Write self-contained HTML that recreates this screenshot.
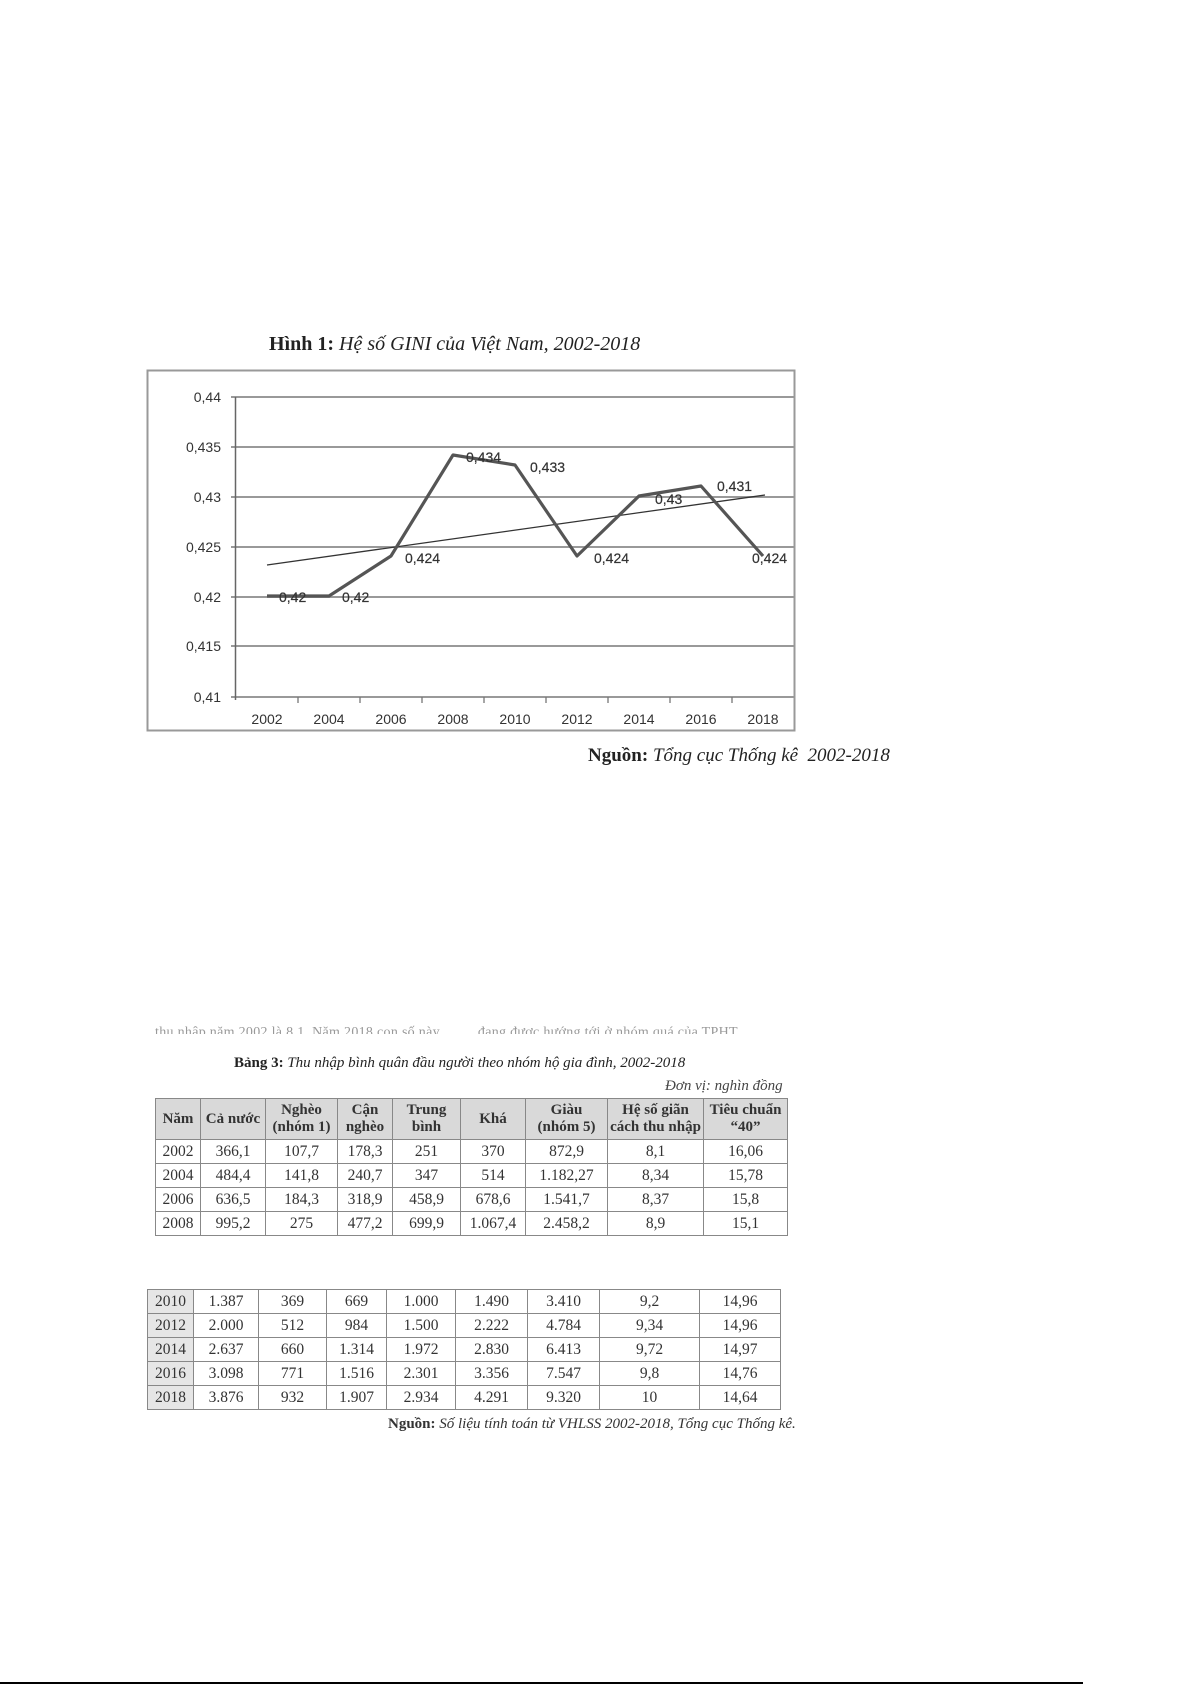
<!DOCTYPE html>
<html><head><meta charset="utf-8"><style>
body{margin:0;width:1192px;height:1685px;background:#fff;position:relative;overflow:hidden;font-family:"Liberation Serif",serif;color:#222}
.a{position:absolute;white-space:nowrap}
table{position:absolute;border-collapse:collapse;font-family:"Liberation Serif",serif;font-size:15.5px;color:#333}
td{border:1px solid #888;text-align:center;padding:0;height:23px}
th{border:1px solid #888;background:#d9d9d9;font-weight:bold;font-size:15px;line-height:17px;padding:0;height:40px}
</style></head><body>
<div class="a" style="left:269px;top:333px;font-size:20px"><b>Hình 1:</b> <i>Hệ số GINI của Việt Nam, 2002-2018</i></div>
<svg class="a" style="left:0;top:0" width="1192" height="800">
<rect x="147.5" y="370.5" width="647" height="360" fill="#fff" stroke="#999" stroke-width="2"/>
<g stroke="#999" stroke-width="2">
<line x1="231" x2="794" y1="397" y2="397"/><line x1="231" x2="794" y1="447" y2="447"/>
<line x1="231" x2="794" y1="497" y2="497"/><line x1="231" x2="794" y1="547" y2="547"/>
<line x1="231" x2="794" y1="597" y2="597"/><line x1="231" x2="794" y1="646" y2="646"/>
<line x1="231" x2="794" y1="697" y2="697"/>
</g>
<line x1="235.5" x2="235.5" y1="397" y2="700" stroke="#666" stroke-width="1.5"/>
<g stroke="#777" stroke-width="1.3">
<line x1="298" x2="298" y1="697" y2="703"/><line x1="360" x2="360" y1="697" y2="703"/><line x1="422" x2="422" y1="697" y2="703"/><line x1="484" x2="484" y1="697" y2="703"/><line x1="546" x2="546" y1="697" y2="703"/><line x1="608" x2="608" y1="697" y2="703"/><line x1="670" x2="670" y1="697" y2="703"/><line x1="732" x2="732" y1="697" y2="703"/>
</g>
<g font-family="Liberation Sans,sans-serif" font-size="14" fill="#333" text-anchor="end">
<text x="221" y="402">0,44</text><text x="221" y="452">0,435</text><text x="221" y="502">0,43</text><text x="221" y="552">0,425</text><text x="221" y="602">0,42</text><text x="221" y="651">0,415</text><text x="221" y="702">0,41</text>
</g>
<g font-family="Liberation Sans,sans-serif" font-size="14" fill="#333" text-anchor="middle">
<text x="267" y="724">2002</text><text x="329" y="724">2004</text><text x="391" y="724">2006</text><text x="453" y="724">2008</text><text x="515" y="724">2010</text><text x="577" y="724">2012</text><text x="639" y="724">2014</text><text x="701" y="724">2016</text><text x="763" y="724">2018</text>
</g>
<line x1="267" y1="565" x2="765" y2="495" stroke="#333" stroke-width="1.3"/>
<polyline fill="none" stroke="#555" stroke-width="3.2" stroke-linejoin="round" points="267,596 329,596 391,556 453,455 515,465 577,556 639,496 701,486 763,556"/>
<g font-family="Liberation Sans,sans-serif" font-size="14" fill="#333" stroke="#333" stroke-width="0.2">
<text x="279" y="602">0,42</text><text x="342" y="602">0,42</text><text x="405" y="563">0,424</text><text x="466" y="462">0,434</text><text x="530" y="472">0,433</text><text x="594" y="563">0,424</text><text x="655" y="504">0,43</text><text x="717" y="491">0,431</text><text x="752" y="563">0,424</text>
</g>
</svg>
<div class="a" style="left:588px;top:745px;font-size:19px"><b>Nguồn:</b> <i>Tổng cục Thống kê&nbsp; 2002-2018</i></div>

<div class="a" style="left:155px;top:1025px;font-size:14px;color:#999;letter-spacing:0.3px;height:9px;overflow:hidden;line-height:16px">thu nhập năm 2002 là 8,1. Năm 2018 con số này &nbsp;&nbsp;&nbsp;&nbsp;&nbsp;&nbsp;&nbsp;&nbsp; đang được hướng tới ở nhóm quá của TPHT.</div>
<div class="a" style="left:234px;top:1055px;font-size:15px"><b>Bảng 3:</b> <i>Thu nhập bình quân đầu người theo nhóm hộ gia đình, 2002-2018</i></div>
<div class="a" style="left:665px;top:1078px;font-size:15px;color:#444"><i>Đơn vị: nghìn đồng</i></div>
<table style="left:155px;top:1098px;width:633px">
<colgroup><col style="width:45px"><col style="width:65px"><col style="width:72px"><col style="width:55px"><col style="width:68px"><col style="width:65px"><col style="width:82px"><col style="width:96px"><col style="width:84px"></colgroup>
<tr><th>Năm</th><th>Cả nước</th><th>Nghèo<br>(nhóm 1)</th><th>Cận<br>nghèo</th><th>Trung<br>bình</th><th>Khá</th><th>Giàu<br>(nhóm 5)</th><th>Hệ số giãn<br>cách thu nhập</th><th>Tiêu chuẩn<br>“40”</th></tr>
<tr><td>2002</td><td>366,1</td><td>107,7</td><td>178,3</td><td>251</td><td>370</td><td>872,9</td><td>8,1</td><td>16,06</td></tr>
<tr><td>2004</td><td>484,4</td><td>141,8</td><td>240,7</td><td>347</td><td>514</td><td>1.182,27</td><td>8,34</td><td>15,78</td></tr>
<tr><td>2006</td><td>636,5</td><td>184,3</td><td>318,9</td><td>458,9</td><td>678,6</td><td>1.541,7</td><td>8,37</td><td>15,8</td></tr>
<tr><td>2008</td><td>995,2</td><td>275</td><td>477,2</td><td>699,9</td><td>1.067,4</td><td>2.458,2</td><td>8,9</td><td>15,1</td></tr>
</table>
<table style="left:147px;top:1289px;width:634px">
<colgroup><col style="width:46px"><col style="width:65px"><col style="width:68px"><col style="width:60px"><col style="width:69px"><col style="width:72px"><col style="width:72px"><col style="width:100px"><col style="width:81px"></colgroup>
<tr><td style="background:#e6e6e6">2010</td><td>1.387</td><td>369</td><td>669</td><td>1.000</td><td>1.490</td><td>3.410</td><td>9,2</td><td>14,96</td></tr>
<tr><td style="background:#e6e6e6">2012</td><td>2.000</td><td>512</td><td>984</td><td>1.500</td><td>2.222</td><td>4.784</td><td>9,34</td><td>14,96</td></tr>
<tr><td style="background:#e6e6e6">2014</td><td>2.637</td><td>660</td><td>1.314</td><td>1.972</td><td>2.830</td><td>6.413</td><td>9,72</td><td>14,97</td></tr>
<tr><td style="background:#e6e6e6">2016</td><td>3.098</td><td>771</td><td>1.516</td><td>2.301</td><td>3.356</td><td>7.547</td><td>9,8</td><td>14,76</td></tr>
<tr><td style="background:#e6e6e6">2018</td><td>3.876</td><td>932</td><td>1.907</td><td>2.934</td><td>4.291</td><td>9.320</td><td>10</td><td>14,64</td></tr>
</table>
<div class="a" style="left:388px;top:1416px;font-size:15px;color:#333"><b>Nguồn:</b> <i>Số liệu tính toán từ VHLSS 2002-2018, Tổng cục Thống kê.</i></div>
<div class="a" style="left:0;top:1682px;width:1083px;height:2px;background:#000"></div>
</body></html>
